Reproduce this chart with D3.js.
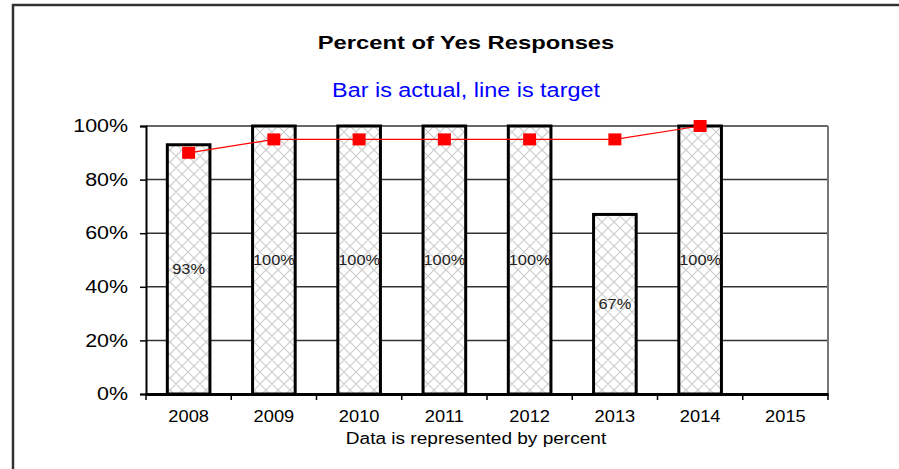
<!DOCTYPE html>
<html>
<head>
<meta charset="utf-8">
<script src="https://cdn.jsdelivr.net/npm/d3@7"></script>
<style>
  body { margin: 0; background: #fff; }
  text { font-family: Arial, "Liberation Sans", sans-serif; fill: #000; }
</style>
</head>
<body>
<svg id="chart" width="899" height="469"></svg>
<script>
// Data
const years = ['2008', '2009', '2010', '2011', '2012', '2013', '2014', '2015'];
const actual = [0.93, 1.00, 1.00, 1.00, 1.00, 0.67, 1.00, null];
const target = [0.90, 0.95, 0.95, 0.95, 0.95, 0.95, 1.00, null];
const yTicks = [0, 0.2, 0.4, 0.6, 0.8, 1.0];

const svg = d3.select('#chart');
const margin = {left: 146, right: 71, top: 126, bottom: 75};
const width = 899 - margin.left - margin.right;
const height = 469 - margin.top - margin.bottom;

// the original text is drawn a bit wide; stretch glyphs horizontally
function widen(sel, k) {
  sel.each(function() {
    const len = this.getComputedTextLength();
    d3.select(this)
        .attr('textLength', len * k)
        .attr('lengthAdjust', 'spacingAndGlyphs');
  });
}

// outer frame, cut off at the right and bottom
svg.append('rect')
    .attr('x', 13).attr('y', 5)
    .attr('width', 1000).attr('height', 1000)
    .attr('fill', 'none')
    .attr('stroke', '#333')
    .attr('stroke-width', 2.5);

// crosshatch fill for the bars
const defs = svg.append('defs');
const pat = defs.append('pattern')
    .attr('id', 'hatch')
    .attr('patternUnits', 'userSpaceOnUse')
    .attr('width', 12).attr('height', 12);
pat.append('rect').attr('width', 12).attr('height', 12).attr('fill', '#fff');
pat.append('path')
    .attr('d', 'M0,0L12,12M12,0L0,12M-6,6L6,18M6,-6L18,6M-6,6L6,-6M6,18L18,6')
    .attr('stroke', '#cdcdcd')
    .attr('stroke-width', 1.2);

const g = svg.append('g')
    .attr('transform', `translate(${margin.left},${margin.top})`);

const x = d3.scaleBand().domain(years).range([0, width]);
const y = d3.scaleLinear().domain([0, 1]).range([height, 0]);

// titles
svg.append('text')
    .attr('x', 466).attr('y', 49)
    .attr('text-anchor', 'middle')
    .style('font-size', '19px')
    .style('font-weight', 'bold')
    .text('Percent of Yes Responses')
    .call(widen, 1.25);

svg.append('text')
    .attr('x', 466).attr('y', 97)
    .attr('text-anchor', 'middle')
    .style('font-size', '20px')
    .style('fill', '#0000ff')
    .text('Bar is actual, line is target')
    .call(widen, 1.17);

// gridlines
g.selectAll('.grid')
    .data(yTicks.slice(1))
  .enter().append('line')
    .attr('class', 'grid')
    .attr('x1', 0).attr('x2', width)
    .attr('y1', d => y(d)).attr('y2', d => y(d))
    .attr('stroke', '#333')
    .attr('stroke-width', 1.5);

// right border of the plot area
g.append('line')
    .attr('x1', width).attr('x2', width)
    .attr('y1', 0).attr('y2', height)
    .attr('stroke', '#777')
    .attr('stroke-width', 2);

// y axis
const yAxisG = g.append('g')
    .call(d3.axisLeft(y).tickValues(yTicks).tickFormat(d3.format('.0%')).tickSize(6).tickPadding(12));
yAxisG.select('.domain').attr('stroke', '#000').attr('stroke-width', 2);
yAxisG.selectAll('.tick line').attr('stroke', '#000').attr('stroke-width', 1.5);
yAxisG.selectAll('.tick text')
    .style('font-size', '18px')
    .attr('font-family', null)
    .call(widen, 1.19);

// bars
const barData = years.map((d, i) => ({year: d, value: actual[i]})).filter(d => d.value != null);
g.selectAll('.bar')
    .data(barData)
  .enter().append('rect')
    .attr('class', 'bar')
    .attr('x', d => x(d.year) + x.bandwidth() / 4)
    .attr('width', x.bandwidth() / 2)
    .attr('y', d => y(d.value))
    .attr('height', d => height - y(d.value))
    .attr('fill', 'url(#hatch)')
    .attr('stroke', '#000')
    .attr('stroke-width', 3);

// bar value labels, in the middle of each bar
g.selectAll('.bar-label')
    .data(barData)
  .enter().append('text')
    .attr('class', 'bar-label')
    .attr('x', d => x(d.year) + x.bandwidth() / 2)
    .attr('y', d => (y(d.value) + height) / 2)
    .attr('dy', '.35em')
    .attr('text-anchor', 'middle')
    .style('font-size', '14px')
    .style('fill', '#222')
    .text(d => d3.format('.0%')(d.value))
    .call(widen, 1.17);

// x axis
const xAxisG = g.append('g')
    .attr('transform', `translate(0,${height})`)
    .call(d3.axisBottom(x).tickSize(0).tickPadding(17));
xAxisG.select('.domain').attr('stroke', '#000').attr('stroke-width', 3);
xAxisG.selectAll('.tick text')
    .style('font-size', '16px')
    .attr('font-family', null)
    .call(widen, 1.14);
// tick marks sit on the band edges
g.selectAll('.xtick')
    .data(years.concat(['end']))
  .enter().append('line')
    .attr('class', 'xtick')
    .attr('x1', (d, i) => i * x.step()).attr('x2', (d, i) => i * x.step())
    .attr('y1', height).attr('y2', height + 6)
    .attr('stroke', '#000')
    .attr('stroke-width', 1.5);

svg.append('text')
    .attr('x', 476).attr('y', 444)
    .attr('text-anchor', 'middle')
    .style('font-size', '16px')
    .text('Data is represented by percent')
    .call(widen, 1.19);

// target line with square markers
const pts = years.map((d, i) => ({year: d, value: target[i]})).filter(d => d.value != null);
g.append('path')
    .datum(pts)
    .attr('fill', 'none')
    .attr('stroke', '#ff0000')
    .attr('stroke-width', 1.2)
    .attr('d', d3.line()
      .x(d => x(d.year) + x.bandwidth() / 2)
      .y(d => y(d.value)));

g.selectAll('.marker')
    .data(pts)
  .enter().append('rect')
    .attr('class', 'marker')
    .attr('x', d => x(d.year) + x.bandwidth() / 2 - 6.5)
    .attr('y', d => y(d.value) - 6)
    .attr('width', 13).attr('height', 12)
    .attr('fill', '#ff0000');
</script>
</body>
</html>
